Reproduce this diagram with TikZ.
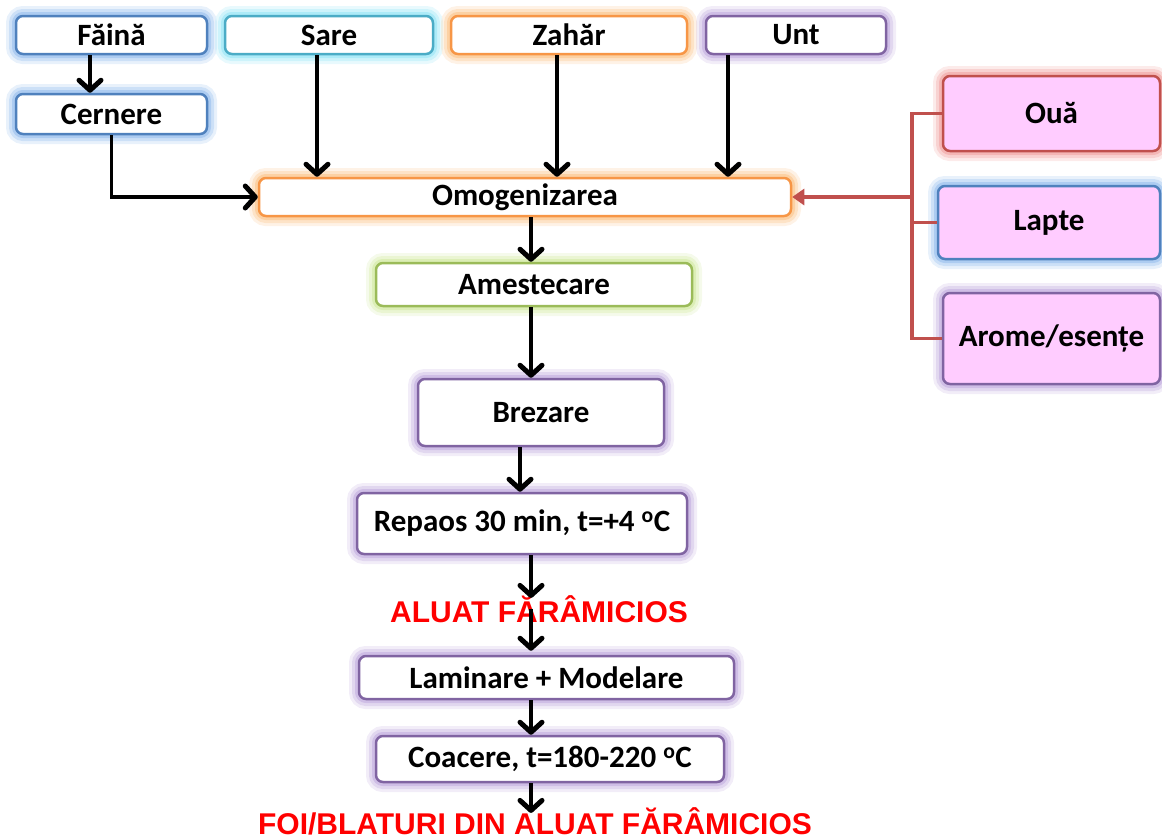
\documentclass[tikz,border=0pt]{standalone}
\usepackage{fontspec}
\setmainfont{Carlito}
\newfontfamily\arialf{Liberation Sans}
\usetikzlibrary{arrows.meta,calc}
\definecolor{cblue}{HTML}{4F81BD}
\definecolor{gblue}{HTML}{8DB8EC}
\definecolor{caqua}{HTML}{4BACC6}
\definecolor{gaqua}{HTML}{8EE3F5}
\definecolor{corange}{HTML}{F79646}
\definecolor{gorange}{HTML}{FBBF80}
\definecolor{cpurple}{HTML}{8064A2}
\definecolor{gpurple}{HTML}{BCA5DC}
\definecolor{cgreen}{HTML}{9BBB59}
\definecolor{ggreen}{HTML}{CFE89A}
\definecolor{cred}{HTML}{C0504D}
\definecolor{gred}{HTML}{F09A98}
\definecolor{cpink}{HTML}{FFCCFF}
\tikzset{
  glow/.style={preaction={draw=#1,line width=20pt,opacity=0.2},
               preaction={draw=#1,line width=14pt,opacity=0.3},
               preaction={draw=#1,line width=8pt,opacity=0.5}},
  box/.style={draw=#1, line width=2.5pt, rounded corners=7pt, fill=white,
              font=\bfseries\fontsize{31}{33}\selectfont, inner sep=0pt},
  arr/.style={line width=3.5pt, -{Straight Barb[length=10pt,width=22pt,line width=5pt,round]}},
  redl/.style={draw=cred, line width=3.5pt},
  bigred/.style={text=red, font=\arialf\bfseries\fontsize{30}{32}\selectfont, inner sep=0pt, anchor=base}
}
\begin{document}
\begin{tikzpicture}[x=1pt,y=-1pt]
\useasboundingbox (0,0) rectangle (1162,839);
% top ingredients
\node[box=cblue, glow=gblue, minimum width=191pt, minimum height=38pt] (fa) at (111.5,35) {Făină};
\node[box=caqua, glow=gaqua, minimum width=208pt, minimum height=38pt] (sare) at (329,35) {Sare};
\node[box=corange, glow=gorange, minimum width=236pt, minimum height=38pt] (zahar) at (569,35) {Zahăr};
\node[box=cpurple, glow=gpurple, minimum width=180pt, minimum height=38pt] (unt) at (796,35) {Unt};
\node[box=cblue, glow=gblue, minimum width=191pt, minimum height=40pt] (cern) at (111.5,114) {Cernere};
% main flow
\node[box=corange, glow=gorange, minimum width=532pt, minimum height=38pt] (omog) at (525,197) {Omogenizarea};
\node[box=cgreen, glow=ggreen, minimum width=316pt, minimum height=43pt] (amest) at (534,284.5) {Amestecare};
\node[box=cpurple, glow=gpurple, minimum width=246pt, minimum height=67pt] (brez) at (541,412.5) {Brezare};
\node[box=cpurple, glow=gpurple, minimum width=330pt, minimum height=61pt] (rep) at (522,523.5) {Repaos 30 min, t=+4 \textsuperscript{o}C};
\node[bigred] (aluat) at (539,622) {ALUAT FĂRÂMICIOS};
\node[box=cpurple, glow=gpurple, minimum width=375pt, minimum height=43pt] (lam) at (546.5,677.5) {Laminare + Modelare};
\node[box=cpurple, glow=gpurple, minimum width=348pt, minimum height=46pt] (coac) at (550,759) {Coacere, t=180-220 \textsuperscript{o}C};
\node[bigred] (foi) at (535,834) {FOI/BLATURI DIN ALUAT FĂRÂMICIOS};
% right ingredients
\node[box=cred, glow=gred, fill=cpink, minimum width=217pt, minimum height=75pt] (oua) at (1051.5,113.5) {Ouă};
\node[box=cblue, glow=gblue, fill=cpink, minimum width=222pt, minimum height=73pt] (lapte) at (1049,222.5) {Lapte};
\node[box=cpurple, glow=gpurple, fill=cpink, minimum width=217pt, minimum height=91pt] (arome) at (1051.5,338.5) {Arome/esențe};
% connectors
\coordinate (bus) at (912,0);
\draw[redl] (oua.west) -- (oua.west -| bus) -- (arome.west -| bus) -- (arome.west);
\draw[redl] (lapte.west) -- (lapte.west -| bus);
\draw[redl, -{Triangle[length=12pt,width=16pt]}] (omog.east -| bus) -- (omog.east);
\draw[arr] ([xshift=-21.5pt]fa.south) -- ([xshift=-21.5pt]fa.south |- cern.north);
\draw[arr] (cern.south) |- (omog.west);
\draw[arr] ([xshift=-12pt]sare.south) -- ([xshift=-12pt]sare.south |- omog.north);
\draw[arr] ([xshift=-12pt]zahar.south) -- ([xshift=-12pt]zahar.south |- omog.north);
\draw[arr] ([xshift=-68pt]unt.south) -- ([xshift=-68pt]unt.south |- omog.north);
\draw[arr] ([xshift=6pt]omog.south) -- ([xshift=6pt]omog.south |- amest.north);
\draw[arr] ([xshift=-3pt]amest.south) -- ([xshift=-3pt]amest.south |- brez.north);
\draw[arr] ([xshift=-21pt]brez.south) -- ([xshift=-21pt]brez.south |- rep.north);
\draw[arr, shorten >=-3pt] ([xshift=9pt]rep.south) -- ([xshift=9pt]rep.south |- aluat.north);
\draw[arr, shorten >=4pt] ([xshift=-8pt]aluat.center) -- ([xshift=-8pt]aluat.center |- lam.north);
\draw[arr] ([xshift=-15.5pt]lam.south) -- ([xshift=-15.5pt]lam.south |- coac.north);
\draw[arr, shorten >=-6pt] ([xshift=-19pt]coac.south) -- ([xshift=-19pt]coac.south |- foi.north);
\end{tikzpicture}
\end{document}
